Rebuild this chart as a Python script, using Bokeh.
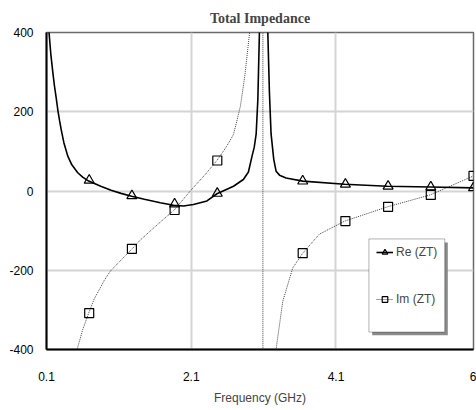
from bokeh.plotting import figure
from bokeh.models import Range1d, FixedTicker, Legend, LegendItem, BoxAnnotation
from bokeh.embed import file_html
from bokeh.resources import INLINE

# Re(ZT) curve (GHz, Ohm)
re_f = [0.1, 0.135, 0.16, 0.187, 0.21, 0.234, 0.256, 0.28, 0.303, 0.34, 0.394, 0.45,
        0.532, 0.6, 0.683, 0.85, 0.992, 1.13, 1.277, 1.452, 1.672, 1.856, 1.994, 2.13,
        2.317, 2.455, 2.684, 2.82, 2.89, 2.94, 2.97, 2.997, 3.02, 3.042, 3.07, 3.095,
        3.125, 3.158, 3.18, 3.203, 3.24, 3.272, 3.32, 3.41, 3.64, 4.22, 4.81, 5.40, 6.0]
re_v = [700, 400, 345, 300, 265, 235, 205, 178, 155, 122, 88, 66,
        46, 35, 25, 12, 2, -6, -13, -21, -29.5, -36, -38, -34,
        -25, -7, 12, 29, 48, 88, 110, 144, 230, 400, 1000, 3000,
        1000, 400, 250, 144, 80, 50, 40, 33, 25, 17, 12, 10, 8]

# Im(ZT) curve (GHz, Ohm)
im_f = [0.45, 0.523, 0.6, 0.683, 0.76, 0.845, 0.9, 0.983, 1.1, 1.282, 1.4, 1.534, 1.7,
        1.866, 2.086, 2.3, 2.455, 2.546, 2.62, 2.684, 2.72, 2.78, 2.84, 2.904, 2.96,
        3.02, 3.07, 3.09, 3.09, 3.12, 3.2, 3.272, 3.365, 3.503, 3.64, 3.87, 4.22,
        4.81, 5.40, 6.0]
im_v = [-520, -400, -350, -308, -272, -244, -225, -202, -180, -146, -123, -101, -74,
        -48, 0, 43, 77, 101, 122, 143, 169, 215, 290, 396, 600,
        1200, 4000, 30000, -30000, -4000, -900, -400, -278, -194, -157, -109, -76,
        -40, -10, 38]

# marker positions
mk_f = [0.69, 1.28, 1.87, 2.46, 3.64, 4.23, 4.82, 5.41, 6.0]
re_mk = [27, -12, -33, -6, 25, 17, 12, 10, 8]
im_mk = [-308, -146, -48, 77, -157, -76, -40, -10, 38]

x_ticks = [0.1, 2.1, 4.1, 6.0]
x_labels = ["0.1", "2.1", "4.1", "6"]
y_ticks = [-400, -200, 0, 200, 400]
y_labels = ["-400", "-200", "0", "200", "400"]

FONT = "Liberation Sans"

p = figure(width=476, height=410, x_range=Range1d(0.1, 6.0), y_range=Range1d(-400, 400),
           output_backend="svg", toolbar_location=None,
           min_border_left=46, min_border_right=3, min_border_top=32, min_border_bottom=61,
           title="Total Impedance")

p.title.text_font = "Liberation Serif"
p.title.text_font_size = "14px"
p.title.text_font_style = "bold"
p.title.align = "center"
p.title.standoff = 14

p.outline_line_color = "#6a6a6a"
p.outline_line_width = 1.5
p.background_fill_color = "white"
p.border_fill_color = "white"

p.xaxis.ticker = FixedTicker(ticks=x_ticks)
p.xaxis.major_label_overrides = {t: l for t, l in zip(x_ticks, x_labels)}
p.yaxis.ticker = FixedTicker(ticks=y_ticks)
p.yaxis.major_label_overrides = {t: l for t, l in zip(y_ticks, y_labels)}
p.xgrid.ticker = FixedTicker(ticks=[2.1, 4.1])
p.ygrid.ticker = FixedTicker(ticks=[-200, 0, 200])
for g in (p.xgrid, p.ygrid):
    g.grid_line_color = "#d4d4d4"
    g.grid_line_width = 2

for ax in (p.xaxis, p.yaxis):
    ax.axis_line_color = "black"
    ax.axis_line_width = 2
    ax.major_tick_line_color = None
    ax.minor_tick_line_color = None
    ax.major_tick_out = 0
    ax.major_tick_in = 0
    ax.major_label_text_font = FONT
    ax.major_label_text_font_size = "12px"
    ax.major_label_text_color = "black"
p.xaxis.major_label_standoff = 22
p.yaxis.major_label_standoff = 13
p.xaxis.axis_label = "Frequency (GHz)"
p.xaxis.axis_label_text_font = FONT
p.xaxis.axis_label_text_font_size = "12px"
p.xaxis.axis_label_text_font_style = "normal"
p.xaxis.axis_label_standoff = 7

im_line = p.line(im_f, im_v, line_color="#444444", line_width=1, line_dash="1 1")
re_line = p.line(re_f, re_v, line_color="black", line_width=1.6)
re_sc = p.scatter(mk_f, re_mk, marker="triangle", size=10, line_color="black",
                  line_width=1.2, fill_alpha=0)
im_sc = p.scatter(mk_f, im_mk, marker="square", size=9, line_color="black",
                  line_width=1.2, fill_alpha=0)

# legend box with shadow
p.add_layout(BoxAnnotation(left=4.60, right=5.645, top=-130, bottom=-364,
                           fill_color="#8a8a8a", fill_alpha=1, line_alpha=0))
p.add_layout(BoxAnnotation(left=4.555, right=5.603, top=-121, bottom=-356,
                           fill_color="white", fill_alpha=1, line_color="black",
                           line_width=1))

legend = Legend(items=[LegendItem(label="Re (ZT)", renderers=[re_line, re_sc]),
                       LegendItem(label="Im (ZT)", renderers=[im_line, im_sc])],
                location=(330, 43), padding=0, spacing=33, glyph_width=17,
                glyph_height=14, label_height=14, label_standoff=3,
                label_text_font=FONT, label_text_font_size="12px",
                background_fill_alpha=0, border_line_alpha=0)
p.add_layout(legend)

open("out.html", "w").write(file_html(p, INLINE))
